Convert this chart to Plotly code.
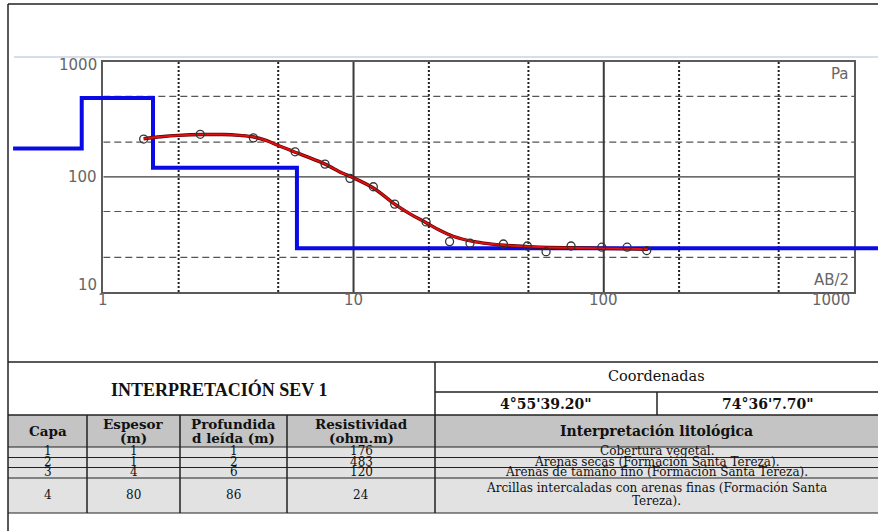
import numpy as np
import plotly.graph_objects as go

# ---------------------------------------------------------------- data
# apparent resistivity field readings (AB/2 in m, rho_a in ohm.m)
ab2_obs = [1.45, 2.44, 3.98, 5.84, 7.69, 9.68, 12.0, 14.6, 19.5, 24.2,
           29.2, 39.7, 49.5, 58.8, 74.0, 98.2, 124.0, 148.5]
rho_obs = [213, 234, 218, 165, 129, 97, 82, 58, 40.6, 27.4,
           26.5, 26.1, 25.1, 22.4, 25.1, 24.5, 24.5, 22.9]

# fitted sounding curve
ab2_fit = [1.45, 1.7, 2.0, 2.5, 3.0, 3.5, 4.0, 4.5, 5.0, 5.75, 6.5, 7.7,
           9.0, 10.0, 12.0, 14.6, 17.0, 19.5, 22.0, 25.0, 30.0, 35.0,
           40.0, 50.0, 60.0, 80.0, 100.0, 125.0, 150.0]
rho_fit = [214, 223, 229, 233, 233, 229, 222, 206, 187, 166, 150, 129,
           108, 98, 80, 58, 47, 40, 34.5, 30.5, 27.5, 26.2,
           25.5, 24.8, 24.4, 24.1, 23.9, 23.7, 23.5]

# layered model
capa = ["1", "2", "3", "4"]
espesor = ["1", "1", "4", "80"]
profundidad = ["1", "2", "6", "86"]
resistividad = [176, 483, 120, 24]
litologia = [
    ["Cobertura vegetal."],
    ["Arenas secas (Formación Santa Tereza)."],
    ["Arenas de tamaño fino (Formación Santa Tereza)."],
    ["Arcillas intercaladas con arenas finas (Formación Santa", "Tereza)."],
]
model_bounds = [0.82, 1.58, 5.94]      # layer boundaries on the AB/2 axis
model_start, model_end = 0.436, 3000.0

x_ticks = [1, 10, 100, 1000]
y_ticks = [10, 100, 1000]
coord_lat, coord_lon = "4°55'39.20\"", "74°36'7.70\""

# ---------------------------------------------------------------- geometry
W, H = 878, 531
# plot frame in pixels
FX0, FX1 = 103.3, 854.0   # x = 1 .. 1000
FY0, FY1 = 61.7, 292.0    # y = 1000 .. 10
px_dec_x = (FX1 - FX0) / 3.0
px_dec_y = (FY1 - FY0) / 2.0


def px(x):
    return x / W


def py(y):
    return 1 - y / H


# full-page data axes sharing the frame's scaling (lets the model run past the frame)
x2_range = [-FX0 / px_dec_x, 3 + (W - FX1) / px_dec_x]
y2_range = [1 - (H - FY1) / px_dec_y, 3 + FY0 / px_dec_y]

fig = go.Figure()

GRID_DARK = "#3a3a3a"
AXIS = "#5a5a5a"

# dotted verticals at 2 and 5 of each decade
vx, vy = [], []
for d in [1, 10, 100]:
    for m in (2, 5):
        vx += [m * d, m * d, None]
        vy += [10, 1000, None]
fig.add_trace(go.Scatter(x=vx, y=vy, mode="lines", xaxis="x", yaxis="y",
                         line=dict(color="#222", width=2, dash="2px,2px"),
                         hoverinfo="skip", showlegend=False))
# dashed horizontals
hx, hy = [], []
for v in (20, 50, 200, 500):
    hx += [1, 1000, None]
    hy += [v, v, None]
fig.add_trace(go.Scatter(x=hx, y=hy, mode="lines", xaxis="x", yaxis="y",
                         line=dict(color="#555", width=1.2, dash="7px,4px"),
                         hoverinfo="skip", showlegend=False))
# solid decade lines
fig.add_trace(go.Scatter(x=[10, 10, None, 100, 100], y=[10, 1000, None, 10, 1000],
                         mode="lines", xaxis="x", yaxis="y",
                         line=dict(color=GRID_DARK, width=2),
                         hoverinfo="skip", showlegend=False))
fig.add_trace(go.Scatter(x=[1, 1000], y=[100, 100], mode="lines", xaxis="x", yaxis="y",
                         line=dict(color=GRID_DARK, width=1.2),
                         hoverinfo="skip", showlegend=False))

# blue step model
sx, sy = [model_start], [resistividad[0]]
for b, r0, r1 in zip(model_bounds, resistividad[:-1], resistividad[1:]):
    sx += [b, b]
    sy += [r0, r1]
sx.append(model_end)
sy.append(resistividad[-1])
fig.add_trace(go.Scatter(x=sx, y=sy, mode="lines", xaxis="x2", yaxis="y2",
                         line=dict(color="#0a0ae6", width=4),
                         hoverinfo="skip", showlegend=False))
# fitted curve
fig.add_trace(go.Scatter(x=ab2_fit, y=rho_fit, mode="lines", xaxis="x2", yaxis="y2",
                         line=dict(color="#5a0000", width=3.4, shape="spline"),
                         hoverinfo="skip", showlegend=False))
fig.add_trace(go.Scatter(x=ab2_fit, y=rho_fit, mode="lines", xaxis="x2", yaxis="y2",
                         line=dict(color="#e01010", width=2, shape="spline"),
                         hoverinfo="skip", showlegend=False))
# field readings
fig.add_trace(go.Scatter(x=ab2_obs, y=rho_obs, mode="markers", xaxis="x2", yaxis="y2",
                         marker=dict(symbol="circle-open", size=8, color="#333",
                                     line=dict(color="#333", width=1.3)),
                         showlegend=False))

fig.update_layout(
    width=W, height=H,
    margin=dict(l=0, r=0, t=0, b=0),
    paper_bgcolor="white", plot_bgcolor="rgba(0,0,0,0)",
    xaxis=dict(type="log", range=[0, 3],
               domain=[px(FX0), px(FX1)], anchor="y",
               showgrid=False, zeroline=False, showticklabels=False,
               showline=True, linecolor=AXIS, linewidth=2, mirror=True,
               ticks="", minor=dict(ticks="inside", ticklen=5, tickcolor=AXIS,
                                    tickwidth=1.3, dtick="D1", showgrid=False)),
    yaxis=dict(type="log", range=[1, 3],
               domain=[py(FY1), py(FY0)], anchor="x",
               showgrid=False, zeroline=False, showticklabels=False,
               showline=True, linecolor=AXIS, linewidth=2, mirror=True,
               ticks="", minor=dict(ticks="inside", ticklen=5, tickcolor=AXIS,
                                    tickwidth=1.3, dtick="D1", showgrid=False)),
    xaxis2=dict(type="log", range=x2_range, domain=[0, 1], anchor="y2",
                visible=False),
    yaxis2=dict(type="log", range=y2_range, domain=[0, 1], anchor="x2",
                visible=False),
)

TICKFONT = dict(family="DejaVu Sans, Arial", size=15, color="#666")
for t in y_ticks:
    yy = np.log10(t) + (0.06 if t == 10 else 0.0) - (0.03 if t == 1000 else 0.0)
    fig.add_annotation(x=px(FX0 - 4), xref="paper", y=yy, yref="y",
                       text=str(t), showarrow=False, xanchor="right", yanchor="middle",
                       font=TICKFONT)
for t in x_ticks:
    anchor = "right" if t == 1000 else "center"
    xx = np.log10(t) - (0.01 if t == 1000 else 0.0)
    fig.add_annotation(x=xx, xref="x", y=py(FY1 + 8), yref="paper",
                       text=str(t), showarrow=False, xanchor=anchor, yanchor="middle",
                       font=TICKFONT)
fig.add_annotation(x=px(FX1 - 3), xref="paper", y=py(FY0 + 12), yref="paper",
                   text="Pa", showarrow=False, xanchor="right", yanchor="middle",
                   font=TICKFONT)
fig.add_annotation(x=px(FX1 - 3), xref="paper", y=py(FY1 - 12), yref="paper",
                   text="AB/2", showarrow=False, xanchor="right", yanchor="middle",
                   font=TICKFONT)

# ---------------------------------------------------------------- page frame & table
shapes = []


def hline(x0, x1, y, color="#222", width=1.5):
    shapes.append(dict(type="line", xref="paper", yref="paper",
                       x0=px(x0), x1=px(x1), y0=py(y), y1=py(y),
                       line=dict(color=color, width=width)))


def vline(x, y0, y1, color="#222", width=1.5):
    shapes.append(dict(type="line", xref="paper", yref="paper",
                       x0=px(x), x1=px(x), y0=py(y0), y1=py(y1),
                       line=dict(color=color, width=width)))


def rect(x0, x1, y0, y1, fill):
    shapes.append(dict(type="rect", xref="paper", yref="paper",
                       x0=px(x0), x1=px(x1), y0=py(y0), y1=py(y1),
                       fillcolor=fill, line=dict(width=0), layer="below"))


TL, TR = 8, 878
T_TOP, R_COORD, R_HEAD, R_HEAD_B = 362, 392, 415, 447
row_lines = [447, 457.5, 467.5, 478, 513]
COLS = [8, 87, 180, 287, 435]
COL_MID_R = 657

rect(TL, TR, R_HEAD, R_HEAD_B, "#c4c4c4")
rect(TL, TR, R_HEAD_B, row_lines[-1], "#e2e2e2")

hline(TL, TR, 4)
vline(TL, 4, H)
hline(14, W, 57, color="#c8d2e6", width=1.5)
hline(TL, TR, T_TOP)
hline(COLS[-1], TR, R_COORD)
vline(COL_MID_R, R_COORD, R_HEAD)
hline(TL, TR, R_HEAD)
for yline in row_lines:
    hline(TL, TR, yline, width=1.2)
vline(COLS[-1], T_TOP, row_lines[-1])
for c in COLS[1:-1]:
    vline(c, R_HEAD, row_lines[-1])

fig.update_layout(shapes=shapes)

TIMES = "Liberation Serif, Times New Roman, serif"
WIDE_SERIF = "DejaVu Serif, Liberation Serif, serif"


def text(x, y, s, size=13, bold=False, family=WIDE_SERIF):
    fig.add_annotation(x=px(x), y=py(y), xref="paper", yref="paper",
                       text=f"<b>{s}</b>" if bold else s, showarrow=False,
                       xanchor="center", yanchor="middle", borderpad=0,
                       font=dict(family=family, size=size, color="#111"))


text((TL + COLS[-1]) / 2 - 3, (T_TOP + R_HEAD) / 2 + 1, "INTERPRETACIÓN SEV 1",
     size=18, bold=True, family=TIMES)
text((COLS[-1] + TR) / 2, (T_TOP + R_COORD) / 2 - 1, "Coordenadas", size=14.5)
text((COLS[-1] + COL_MID_R) / 2, (R_COORD + R_HEAD) / 2, coord_lat, size=14, bold=True)
text((COL_MID_R + TR) / 2, (R_COORD + R_HEAD) / 2, coord_lon, size=14, bold=True)

headers = [["Capa"], ["Espesor", "(m)"], ["Profundida", "d leída (m)"],
           ["Resistividad", "(ohm.m)"]]
for i, hd in enumerate(headers):
    xc = (COLS[i] + COLS[i + 1]) / 2
    if len(hd) == 1:
        text(xc, (R_HEAD + R_HEAD_B) / 2, hd[0], size=13.5, bold=True)
    else:
        text(xc, R_HEAD + 9, hd[0], size=13.5, bold=True)
        text(xc, R_HEAD + 23, hd[1], size=13.5, bold=True)
text((COLS[-1] + TR) / 2, (R_HEAD + R_HEAD_B) / 2, "Interpretación litológica",
     size=14, bold=True)

ROW_FONT = 12
for i in range(4):
    yc = (row_lines[i] + row_lines[i + 1]) / 2 - 0.8
    cells = [capa[i], espesor[i], profundidad[i], str(resistividad[i])]
    for j, s in enumerate(cells):
        text((COLS[j] + COLS[j + 1]) / 2, yc, s, size=ROW_FONT)
    lines = litologia[i]
    if len(lines) == 1:
        text((COLS[-1] + TR) / 2, yc, lines[0], size=ROW_FONT)
    else:
        text((COLS[-1] + TR) / 2, yc - 6.5, lines[0], size=ROW_FONT)
        text((COLS[-1] + TR) / 2, yc + 6.5, lines[1], size=ROW_FONT)

fig.write_html("out.html")
